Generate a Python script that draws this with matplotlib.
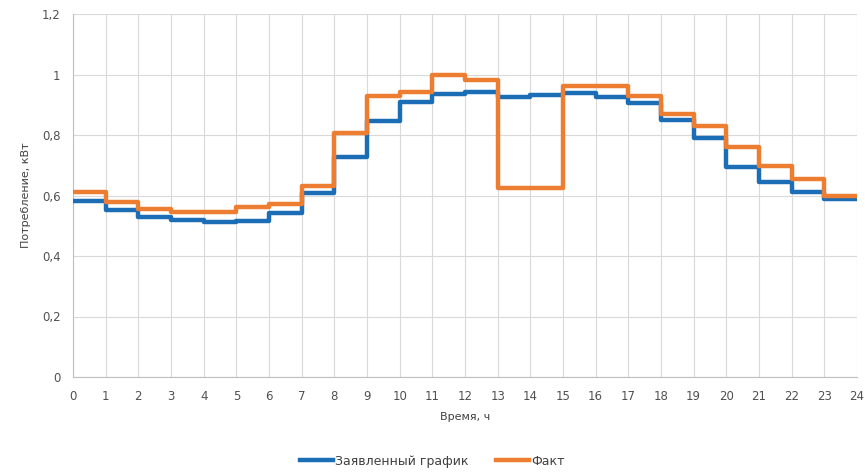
import matplotlib
matplotlib.use("Agg")
import matplotlib.pyplot as plt

hours = list(range(25))
planned = [0.582, 0.552, 0.528, 0.519, 0.513, 0.517, 0.543, 0.609, 0.728, 0.846,
           0.910, 0.935, 0.943, 0.927, 0.932, 0.938, 0.927, 0.905, 0.850, 0.789,
           0.693, 0.646, 0.612, 0.587]
actual = [0.610, 0.580, 0.554, 0.544, 0.544, 0.563, 0.572, 0.631, 0.806, 0.929,
          0.943, 1.000, 0.983, 0.625, 0.625, 0.963, 0.963, 0.929, 0.869, 0.830,
          0.761, 0.697, 0.656, 0.598]
y_ticks = [0, 0.2, 0.4, 0.6, 0.8, 1.0, 1.2]
y_labels = ["0", "0,2", "0,4", "0,6", "0,8", "1", "1,2"]

plt.rcParams["font.family"] = ["DejaVu Sans"]

fig = plt.figure(figsize=(8.65, 4.75), dpi=100)
ax = fig.add_axes([73 / 865, 1 - 377 / 475, (857 - 73) / 865, (377 - 14) / 475])

ax.step(hours, planned + planned[-1:], where="post", color="#1b6db5", lw=3.2,
        label="Заявленный график", zorder=3)
ax.step(hours, actual + actual[-1:], where="post", color="#ed7d31", lw=3.2,
        label="Факт", zorder=4)

ax.set_xlim(0, 24)
ax.set_ylim(0, 1.2)
ax.set_xticks(hours)
ax.set_yticks(y_ticks)
ax.set_yticklabels(y_labels)
ax.grid(True, color="#d9d9d9", lw=0.8)
ax.set_axisbelow(True)
for side in ["top", "right"]:
    ax.spines[side].set_visible(False)
for side in ["left", "bottom"]:
    ax.spines[side].set_color("#bfbfbf")
ax.tick_params(length=0, labelsize=8.5, colors="#505050", pad=9)
ax.set_xlabel("Время, ч", fontsize=8, color="#404040", labelpad=7)
ax.set_ylabel("Потребление, кВт", fontsize=8, color="#404040", labelpad=8)

fig.legend(loc="lower center", bbox_to_anchor=(0.5, -0.008), ncol=2, frameon=False,
           fontsize=9, handlelength=2.6, handletextpad=0.2, columnspacing=2.2,
           labelcolor="#404040")

fig.savefig("out.png", dpi=100)
plt.close(fig)
